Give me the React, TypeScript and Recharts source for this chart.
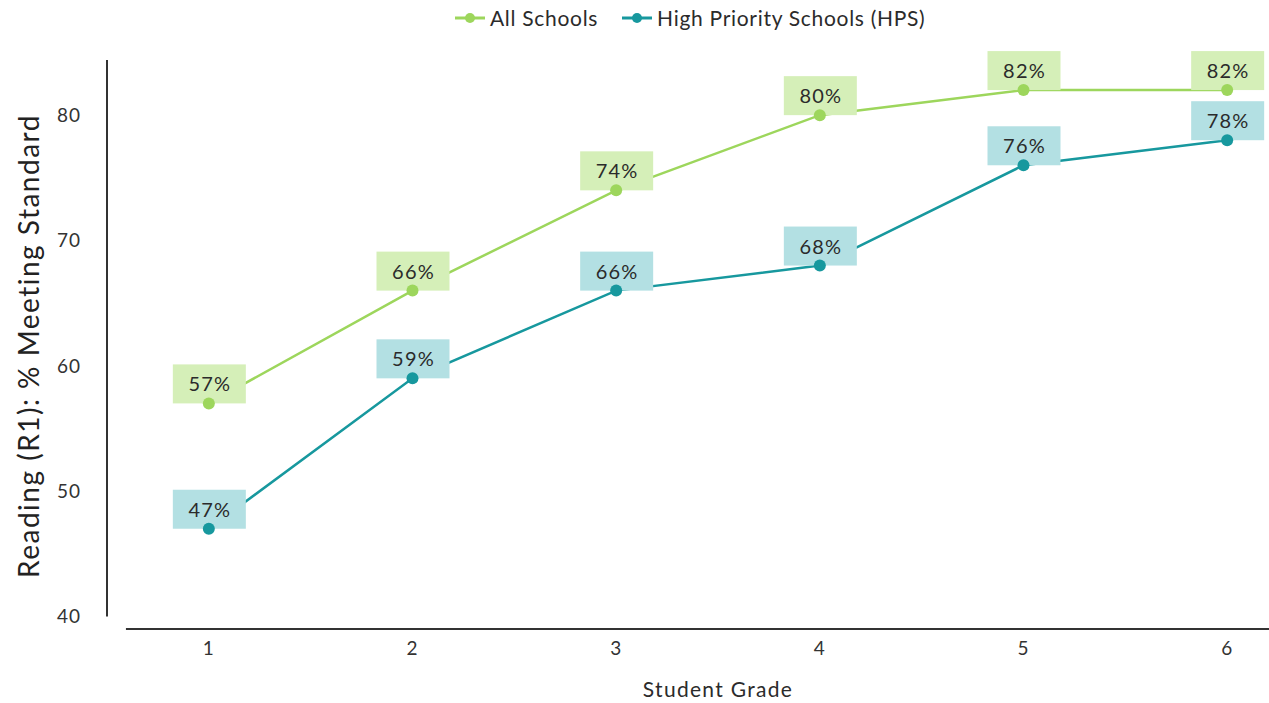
import React from "react"
import {
  LineChart,
  Line,
  XAxis,
  YAxis,
  Legend,
  ReferenceLine,
} from "recharts"

const grades = [1, 2, 3, 4, 5, 6]
const allSchools = [57, 66, 74, 80, 82, 82]
const highPriority = [47, 59, 66, 68, 76, 78]
const yTicks = [40, 50, 60, 70, 80]

const GREEN = "#9dd65c"
const GREEN_BOX = "#d5efb8"
const TEAL = "#17989e"
const TEAL_BOX = "#b3e0e3"
const FONT = "Lato, 'Open Sans', sans-serif"
const TEXT = "#2b2b2b"

const data = grades.map((g, i) => ({
  grade: g,
  all: allSchools[i],
  hps: highPriority[i],
}))

const X_DOMAIN: [number, number] = [0.5, 6.5]
const Y_DOMAIN: [number, number] = [39, 84.4]

// value label drawn on a tinted box sitting just above the point
const boxLabel = (fill: string) => (props: any) => {
  const { cx, cy, value, index } = props
  return (
    <g key={index}>
      <rect x={cx - 36} y={cy - 39} width={73} height={39} fill={fill} />
      <text
        x={cx + 1}
        y={cy - 20}
        textAnchor="middle"
        dominantBaseline="central"
        fontFamily={FONT}
        fontSize={20}
        letterSpacing={1.2}
        fill={TEXT}
      >
        {value}%
      </text>
    </g>
  )
}

const legendItems = [
  { name: "All Schools", color: GREEN },
  { name: "High Priority Schools (HPS)", color: TEAL },
]

function LegendContent() {
  return (
    <div style={{ display: "flex", alignItems: "center", fontFamily: FONT, fontSize: 21, letterSpacing: 0.7, color: TEXT }}>
      {legendItems.map((it) => (
        <div key={it.name} style={{ display: "flex", alignItems: "center", marginRight: 24 }}>
          <svg width={30} height={12} style={{ marginRight: 5 }}>
            <line x1={0} y1={6} x2={30} y2={6} stroke={it.color} strokeWidth={3} />
            <circle cx={15} cy={6} r={5} fill={it.color} />
          </svg>
          <span>{it.name}</span>
        </div>
      ))}
    </div>
  )
}

const seriesLine = (key: string, name: string, color: string) => (
  <Line
    key={key}
    dataKey={key}
    name={name}
    stroke={color}
    strokeWidth={2.5}
    dot={{ r: 6, fill: color, stroke: "none" }}
    activeDot={false}
    isAnimationActive={false}
  />
)

// value boxes only; drawn first so the lines and dots sit on top of them
const labelLayer = (key: string, fill: string) => (
  <Line
    key={`${key}-labels`}
    dataKey={key}
    stroke="none"
    dot={boxLabel(fill)}
    activeDot={false}
    legendType="none"
    isAnimationActive={false}
  />
)

export default function App() {
  return (
    <div style={{ position: "absolute", left: 0, top: 0, width: 1269, height: 703, overflow: "hidden", background: "#fff" }}>
      <LineChart width={1329} height={703} data={data} margin={{ top: 30, right: 0, left: 0, bottom: 0 }}>
        <Legend
          verticalAlign="top"
          content={<LegendContent />}
          wrapperStyle={{ left: 455, top: 5, width: "auto", height: 30 }}
        />
        <XAxis
          dataKey="grade"
          type="number"
          domain={X_DOMAIN}
          ticks={grades}
          axisLine={false}
          tickLine={false}
          tickSize={0}
          tickMargin={13}
          height={74}
          tick={{ fontFamily: FONT, fontSize: 19, letterSpacing: 1, fill: "#333" }}
          label={(p: any) => {
            const vb = p.viewBox
            return (
              <text x={vb.x + vb.width / 2} y={688} textAnchor="middle" dominantBaseline="central" fontFamily={FONT} fontSize={21} letterSpacing={1.3} fill={TEXT}>
                Student Grade
              </text>
            )
          }}
        />
        <YAxis
          domain={Y_DOMAIN}
          ticks={yTicks}
          width={107}
          axisLine={false}
          tickLine={false}
          tickSize={0}
          tickMargin={26}
          tick={{ fontFamily: FONT, fontSize: 19, letterSpacing: 1, fill: "#333" }}
          label={() => (
            <text x={28} y={346} transform="rotate(-90, 28, 346)" textAnchor="middle" dominantBaseline="central" fontFamily={FONT} fontSize={28} letterSpacing={1.5} fill="#222">
              Reading (R1): % Meeting Standard
            </text>
          )}
        />
        {/* detached axis lines, leaving a gap at the corner */}
        <ReferenceLine
          segment={[{ x: X_DOMAIN[0], y: 40 }, { x: X_DOMAIN[0], y: Y_DOMAIN[1] }]}
          stroke="#333"
          strokeWidth={2}
          ifOverflow="visible"
        />
        <ReferenceLine
          segment={[{ x: 0.593, y: Y_DOMAIN[0] }, { x: X_DOMAIN[1], y: Y_DOMAIN[0] }]}
          stroke="#333"
          strokeWidth={2}
          ifOverflow="visible"
        />
        {labelLayer("all", GREEN_BOX)}
        {labelLayer("hps", TEAL_BOX)}
        {seriesLine("all", "All Schools", GREEN)}
        {seriesLine("hps", "High Priority Schools (HPS)", TEAL)}
      </LineChart>
    </div>
  )
}
